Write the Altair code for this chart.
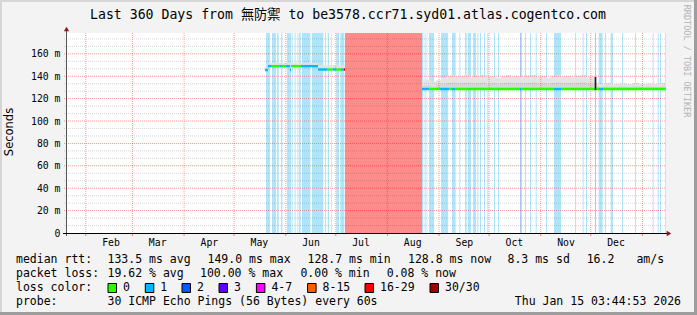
import datetime as dt
import altair as alt
import pandas as pd

# ---------------- values ----------------
END_TIME = dt.datetime(2026, 1, 15, 3, 44, 53)
SPAN_DAYS = 360
Y_TOP = 178.6  # ms at the top edge of the plot area

y_tick_values = [0, 20, 40, 60, 80, 100, 120, 140, 160]
month_names = ["Feb", "Mar", "Apr", "May", "Jun", "Jul", "Aug", "Sep", "Oct", "Nov", "Dec"]

# loss background stripes (day offsets from start of graph)
loss_start = [120.0, 123.6, 126.6, 129.0, 132.6, 135.4, 137.2, 138.6, 139.6, 141.6, 147.6, 155.4,
              157.0, 159.0, 162.2, 164.6, 167.4,
              213.6, 215.2, 216.4, 217.8, 225.0, 231.6, 236.0, 239.4, 241.0, 244.2, 246.8, 248.4,
              250.8, 252.8, 256.8, 259.2, 272.4, 275.4, 278.4, 281.8, 288.0, 292.8, 305.4, 310.0,
              312.0, 317.4, 319.6, 323.4, 326.8, 333.6, 341.4, 352.0, 355.0, 356.4, 359.4]
loss_end = [122.4, 126.0, 127.6, 129.8, 135.0, 136.0, 137.8, 139.0, 140.8, 146.6, 154.4, 156.0,
            157.8, 159.4, 163.8, 167.0, 213.6,
            214.4, 215.8, 216.8, 220.8, 229.2, 233.8, 236.6, 240.4, 243.0, 246.0, 247.4, 249.0,
            251.4, 253.4, 257.4, 259.8, 273.4, 276.0, 279.0, 282.4, 288.6, 297.0, 306.0, 310.6,
            312.6, 318.0, 322.0, 324.0, 328.2, 334.2, 342.0, 352.6, 355.6, 357.0, 359.9]
loss_level = ["1"] * 16 + ["30/30"] + ["1"] * 16 + ["2"] + ["1"] * 8 + ["3"] + ["1"] * 9

# median rtt line segments
med_start = [119.4, 121.2, 123.0, 128.0, 129.5, 132.0, 134.4, 135.0, 141.0, 151.2, 157.0, 160.0,
             162.0, 165.0, 166.8,
             213.6, 218.0, 224.0, 230.0, 231.6, 233.4, 272.4, 273.4, 292.8, 297.0, 319.8, 322.2]
med_end = [121.2, 123.0, 128.0, 129.5, 132.0, 134.4, 135.0, 141.0, 151.2, 157.0, 160.0, 162.0,
           165.0, 166.8, 167.4,
           218.0, 224.0, 230.0, 231.6, 233.4, 272.4, 273.4, 292.8, 297.0, 319.8, 322.2, 360.0]
med_value = [145.5, 149.0, 149.0, 149.0, 149.0, 149.0, 145.5, 149.0, 149.0, 146.0, 146.0, 146.0,
             146.0, 146.0, 146.0,
             128.6, 128.6, 128.6, 128.6, 128.6, 128.6, 128.6, 128.6, 128.6, 128.6, 128.6, 128.6]
med_loss = ["1", "1", "0", "1", "0", "1", "1", "0", "1", "1", "0", "1", "0", "1", "16-29",
            "1", "0", "1", "0", "1", "0", "1", "0", "1", "0", "1", "0"]

# smoke before the outage
pre_smoke_start = [119.4, 121.2, 135.0, 151.2]
pre_smoke_end = [121.2, 134.4, 151.2, 167.4]
pre_smoke_lo = [145.5, 149.0, 149.0, 146.0]
pre_smoke_hi = [148.0, 151.8, 151.8, 149.8]

# smoke after the outage
post_day = [213.6, 216, 219, 222, 225, 228, 231, 234, 237, 240, 243, 246, 249, 252, 255, 258,
            261, 264, 267, 270, 273, 276, 279, 282, 285, 288, 291, 294, 297, 300, 303, 306,
            309, 312, 315, 317.4, 320, 324, 328, 332, 336, 340, 344, 348, 352, 356, 360]
post_outer = [135.5, 137, 135, 136.5, 138.5, 140, 141, 139.5, 140.5, 141, 139, 140.5, 141, 139.5,
              140, 138.5, 140, 141, 139.5, 140, 139, 140.5, 141, 139.5, 140, 138.5, 140, 141,
              139.5, 140, 139, 140.5, 141, 139.5, 139, 133.5, 133, 134, 133, 133.5, 133, 134,
              133, 133.5, 133, 134, 133]
post_inner = [131.5, 132, 131, 132.5, 133, 134, 134.5, 133.5, 134, 134.5, 133.5, 134, 134.5, 133,
              134, 133, 134, 134.5, 133.5, 134, 133.5, 134, 134.5, 133.5, 134, 133, 134, 134.5,
              133.5, 134, 133.5, 134, 134.5, 133.5, 133, 130.5, 130.5, 131, 130.5, 131, 130.5,
              131, 130.5, 131, 130.5, 131, 130.5]
post_base = 128.6

spike = {"s": 317.2, "e": 318.2, "lo": 127.7, "hi": 139.3}

title_text = "Last 360 Days from 無防禦 to be3578.ccr71.syd01.atlas.cogentco.com"
rtt_items = ["133.5 ms avg", "149.0 ms max", "128.7 ms min", "128.8 ms now", "8.3 ms sd", "16.2", "am/s"]
loss_items = ["19.62 % avg", "100.00 % max", "0.00 % min", "0.08 % now"]
loss_legend = ["0", "1", "2", "3", "4-7", "8-15", "16-29", "30/30"]
probe_text = "30 ICMP Echo Pings (56 Bytes) every 60s"
stamp_text = "Thu Jan 15 03:44:53 2026"

# ---------------- styles / layout ----------------
loss_colors = {"0": "#26ff00", "1": "#00b8ff", "2": "#0059ff", "3": "#5e00ff", "4-7": "#ff00fe",
               "8-15": "#ff5e00", "16-29": "#ff0000", "30/30": "#a10000"}
stripe_colors = {"1": "#aee5fb", "2": "#aec6fa", "3": "#c9b6ef", "30/30": "#ff8b8b"}

W, H = 600, 200
PL, PT = 66, 33
MONO = "DejaVu Sans Mono"

start_time = END_TIME - dt.timedelta(days=SPAN_DAYS)


def off(t):
    return (t - start_time).total_seconds() / 86400.0


month_start_days = [off(dt.datetime(2025, m, 1)) for m in range(2, 13)] + [off(dt.datetime(2026, 1, 1))]
month_label_days = [off(dt.datetime(2025, m, 16, 4)) for m in range(2, 13)]

xs = alt.Scale(domain=[0, SPAN_DAYS], nice=False, zero=False)
ys = alt.Scale(domain=[0, Y_TOP], nice=False, zero=True)
yaxis = alt.Axis(values=y_tick_values, ticks=False, domain=False, grid=False, title=None,
                 labelFont=MONO, labelFontSize=9.8, labelColor="#000000", labelPadding=6,
                 labelExpr="datum.value == 0 ? '0\u00a0\u00a0' : datum.value + ' m'")

layers = []

# loss stripes
stripes = pd.DataFrame({"s": loss_start, "e": loss_end,
                        "c": [stripe_colors[l] for l in loss_level]})
layers.append(alt.Chart(stripes).mark_rect().encode(
    x=alt.X("s:Q", scale=xs, axis=None), x2="e:Q",
    y=alt.value(0), y2=alt.value(H), color=alt.Color("c:N", scale=None)))

# smoke
pre = pd.DataFrame({"s": pre_smoke_start, "e": pre_smoke_end, "lo": pre_smoke_lo, "hi": pre_smoke_hi})
layers.append(alt.Chart(pre).mark_rect(color="#e2e2e2").encode(
    x=alt.X("s:Q", scale=xs, axis=None), x2="e:Q",
    y=alt.Y("hi:Q", scale=ys, axis=yaxis), y2="lo:Q"))

post = pd.DataFrame({"d": post_day, "outer": post_outer, "inner": post_inner,
                     "base": [post_base] * len(post_day)})
layers.append(alt.Chart(post).mark_area(color="#e4e4e4", interpolate="step-after").encode(
    x=alt.X("d:Q", scale=xs, axis=None),
    y=alt.Y("outer:Q", scale=ys, axis=yaxis), y2="base:Q"))
layers.append(alt.Chart(post).mark_area(color="#d6d6d6", interpolate="step-after").encode(
    x=alt.X("d:Q", scale=xs, axis=None),
    y=alt.Y("inner:Q", scale=ys, axis=yaxis), y2="base:Q"))

# grid (drawn over the background, under the median line)
minor_vals = [k * 20 / 3 for k in range(1, 27) if k % 3 != 0]
major_vals = [v for v in y_tick_values if v > 0]
layers.append(alt.Chart(pd.DataFrame({"v": minor_vals})).mark_rule(
    color="#000000", opacity=0.16, strokeDash=[1, 1], strokeWidth=1).encode(
    y=alt.Y("v:Q", scale=ys, axis=yaxis), x=alt.value(-2), x2=alt.value(W)))
layers.append(alt.Chart(pd.DataFrame({"v": major_vals})).mark_rule(
    color="#ff0000", opacity=0.38, strokeDash=[1, 1], strokeWidth=1).encode(
    y=alt.Y("v:Q", scale=ys, axis=yaxis), x=alt.value(-2), x2=alt.value(W)))
layers.append(alt.Chart(pd.DataFrame({"d": month_start_days})).mark_rule(
    color="#ff0000", opacity=0.38, strokeDash=[1, 1], strokeWidth=1).encode(
    x=alt.X("d:Q", scale=xs, axis=None), y=alt.value(0), y2=alt.value(H)))

# median line
med = pd.DataFrame({"s": med_start, "e": med_end, "v": med_value,
                    "c": [loss_colors[l] for l in med_loss]})
layers.append(alt.Chart(med).mark_rule(strokeWidth=2.4).encode(
    x=alt.X("s:Q", scale=xs, axis=None), x2="e:Q",
    y=alt.Y("v:Q", scale=ys, axis=yaxis), color=alt.Color("c:N", scale=None)))

# 30/30 spike
layers.append(alt.Chart(pd.DataFrame([spike])).mark_rect(color="#1c1c1c").encode(
    x=alt.X("s:Q", scale=xs, axis=None), x2="e:Q",
    y=alt.Y("hi:Q", scale=ys, axis=yaxis), y2="lo:Q"))

# month ticks below x axis
layers.append(alt.Chart(pd.DataFrame({"d": month_start_days})).mark_rule(
    color="#ff0000", opacity=0.5, strokeWidth=1).encode(
    x=alt.X("d:Q", scale=xs, axis=None), y=alt.value(H), y2=alt.value(H + 3)))

# axis lines + arrows
layers.append(alt.Chart(pd.DataFrame({"a": [0]})).mark_rule(color="#555555", strokeWidth=1).encode(
    x=alt.value(0.5), y=alt.value(-3), y2=alt.value(H + 3)))
layers.append(alt.Chart(pd.DataFrame({"a": [0]})).mark_rule(color="#000000", strokeWidth=1).encode(
    x=alt.value(-3), x2=alt.value(W + 1), y=alt.value(H + 0.5)))
layers.append(alt.Chart(pd.DataFrame({"a": [0]})).mark_point(
    shape="triangle-up", filled=True, color="#8c1a1a", size=28, opacity=1).encode(
    x=alt.value(0.5), y=alt.value(-4)))
layers.append(alt.Chart(pd.DataFrame({"a": [0]})).mark_point(
    shape="triangle-right", filled=True, color="#8c1a1a", size=28, opacity=1).encode(
    x=alt.value(W + 3), y=alt.value(H + 0.5)))

# month labels
layers.append(alt.Chart(pd.DataFrame({"d": month_label_days, "t": month_names})).mark_text(
    font=MONO, fontSize=9.8, color="#000000", baseline="middle", align="center").encode(
    x=alt.X("d:Q", scale=xs, axis=None), y=alt.value(H + 10), text="t:N"))


def txt(s, x, y, size=11.5, font=MONO, align="left", color="#000000", angle=0):
    return alt.Chart(pd.DataFrame({"t": [s]})).mark_text(
        font=font, fontSize=size, align=align, baseline="middle", color=color, angle=angle
    ).encode(text="t:N", x=alt.value(x - PL), y=alt.value(y - PT))


def box(x0, x1, y0, y1, fill, stroke=None):
    kw = {"fill": fill}
    if stroke:
        kw.update(stroke=stroke, strokeWidth=1)
    return alt.Chart(pd.DataFrame({"a": [0]})).mark_rect(**kw).encode(
        x=alt.value(x0 - PL), x2=alt.value(x1 - PL), y=alt.value(y0 - PT), y2=alt.value(y1 - PT))


# title, axis title, watermark
layers.append(txt(title_text, 348, 15, size=13.2, font="DejaVu Sans Mono, Noto Sans CJK TC", align="center"))
layers.append(txt("Seconds", 10, 132, size=11.5, font="DejaVu Sans", align="center", angle=270))
layers.append(txt("RRDTOOL / TOBI OETIKER", 686.5, 61, size=8.5, align="center", color="#b4b4b4", angle=90))

# legend rows
ROWS = [260, 274, 288, 302]
layers.append(txt("median rtt:", 16, ROWS[0]))
for s, x in zip(rtt_items, [107.5, 207.5, 307.5, 408, 507.5, 586.7, 636.4]):
    layers.append(txt(s, x, ROWS[0]))
layers.append(txt("packet loss:", 16, ROWS[1]))
for s, x in zip(loss_items, [107.5, 200, 300.4, 386.7]):
    layers.append(txt(s, x, ROWS[1]))
layers.append(txt("loss color:", 16, ROWS[2]))
for s, x in zip(loss_legend, [108, 145.3, 182, 219, 256.4, 307.6, 365, 430]):
    layers.append(box(x, x + 8.5, ROWS[2] - 4.5, ROWS[2] + 4.5, loss_colors[s], "#000000"))
    layers.append(txt(s, x + 15, ROWS[2]))
layers.append(txt("probe:", 16, ROWS[3]))
layers.append(txt(probe_text, 107.5, ROWS[3]))
layers.append(txt(stamp_text, 681, ROWS[3], align="right"))

# frame
layers.append(box(694, 697, 0, 315, "#9d9d9d"))
layers.append(box(0, 697, 312, 315, "#9d9d9d"))
layers.append(box(0, 2, 0, 312, "#d6d6d6"))
layers.append(box(0, 694, 0, 2, "#d6d6d6"))

chart = alt.layer(*layers).properties(
    width=W, height=H,
    padding={"left": PL, "top": PT, "right": 697 - PL - W, "bottom": 315 - PT - H},
    autosize=alt.AutoSizeParams(type="none"),
    background="#f3f3f3",
).configure_view(stroke=None, fill="white")

chart.save("out.html", embed_options={"renderer": "svg", "actions": False})
